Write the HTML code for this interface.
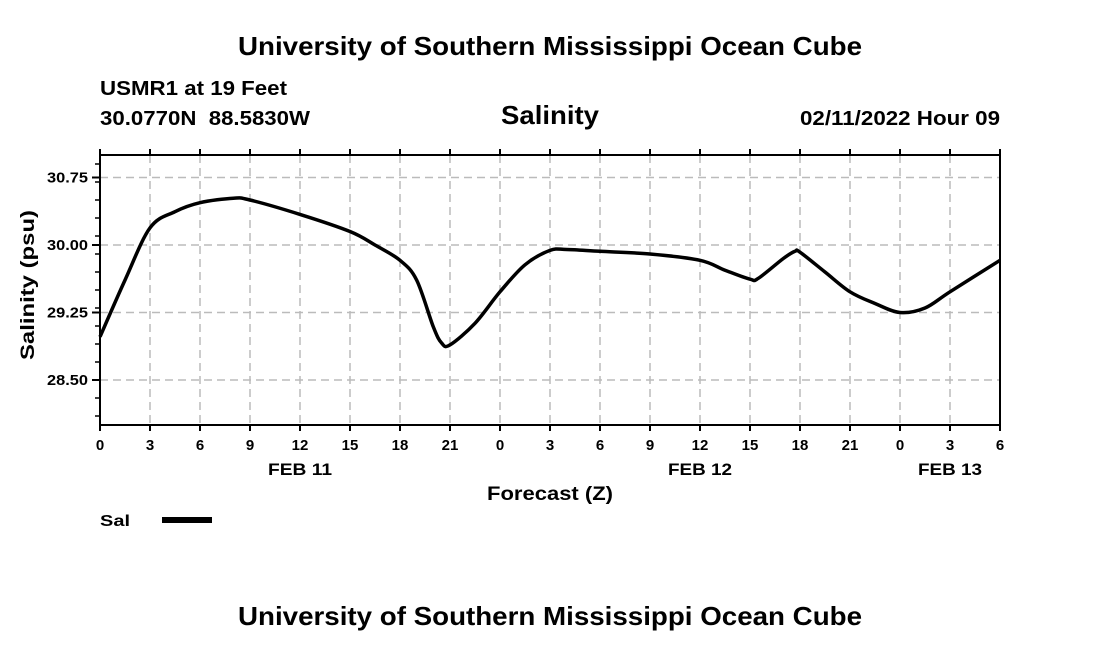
<!DOCTYPE html>
<html><head><meta charset="utf-8"><style>
body{margin:0;background:#fff;}
svg text{font-family:"Liberation Sans",Arial,sans-serif;font-weight:bold;fill:#000;}
</style></head><body>
<svg width="1100" height="650">
<text x="238" y="55" font-size="26" textLength="624" lengthAdjust="spacingAndGlyphs">University of Southern Mississippi Ocean Cube</text>
<text x="100" y="95" font-size="20" textLength="187" lengthAdjust="spacingAndGlyphs">USMR1 at 19 Feet</text>
<text x="100" y="125" font-size="20" textLength="210" lengthAdjust="spacingAndGlyphs" xml:space="preserve">30.0770N  88.5830W</text>
<text x="501" y="124" font-size="26" textLength="98" lengthAdjust="spacingAndGlyphs">Salinity</text>
<text x="800" y="125" font-size="20" textLength="200" lengthAdjust="spacingAndGlyphs">02/11/2022 Hour 09</text>
<g id="grid"></g>
<g id="axes"></g>
<path id="line" fill="none" stroke="#000" stroke-width="3.5" stroke-linejoin="round"></path>
<rect x="100" y="155" width="900" height="270" fill="none" stroke="#000" stroke-width="2"/>
<text transform="translate(34,285) rotate(-90)" x="-75" y="0" font-size="19" textLength="150" lengthAdjust="spacingAndGlyphs">Salinity (psu)</text>
<text x="487" y="500" font-size="19" textLength="126" lengthAdjust="spacingAndGlyphs">Forecast (Z)</text>
<text x="100" y="526" font-size="16" textLength="30" lengthAdjust="spacingAndGlyphs">Sal</text>
<line x1="162" y1="520" x2="212" y2="520" stroke="#000" stroke-width="6"/>
<text x="238" y="625" font-size="26" textLength="624" lengthAdjust="spacingAndGlyphs">University of Southern Mississippi Ocean Cube</text>
</svg>
<script>
const hours=[0,1.5,3,4.5,6,8,9,12,15,16.5,18,19,20,20.5,21,22.5,24,25.5,27,28,30,33,36,37.5,39,39.5,41,41.7,42,43.5,45,46.5,48,49.5,51,54];
const salinity=[28.98,29.61,30.19,30.37,30.47,30.52,30.50,30.34,30.15,30.0,29.83,29.61,29.09,28.91,28.89,29.13,29.48,29.78,29.94,29.95,29.93,29.90,29.83,29.72,29.62,29.63,29.85,29.93,29.92,29.70,29.48,29.35,29.25,29.30,29.48,29.83];
const yTicks=[30.75,30.00,29.25,28.50];
const xTickLabels=["0","3","6","9","12","15","18","21","0","3","6","9","12","15","18","21","0","3","6"];
const dateLabels=["FEB 11","FEB 12","FEB 13"];
const dateHours=[12,36,51];
const X0=100,X1=1000,Y0=425,Y1=155,H=54,VMIN=28,VMAX=31;
const xs=h=>X0+(X1-X0)*h/H;
const ys=v=>Y0-(Y0-Y1)*(v-VMIN)/(VMAX-VMIN);
const NS="http://www.w3.org/2000/svg";
const grid=document.getElementById('grid'),axes=document.getElementById('axes');
function mk(tag,attrs,parent){const e=document.createElementNS(NS,tag);for(const k in attrs)e.setAttribute(k,attrs[k]);parent.appendChild(e);return e;}
yTicks.forEach(v=>{
  const g=mk('line',{x1:X0,x2:X1,y1:ys(v),y2:ys(v),stroke:'#bbb','stroke-width':1.5,'stroke-dasharray':'8,5'},grid);
  
  
  const t=mk('line',{x1:X0-8,x2:X0,y1:ys(v),y2:ys(v),stroke:'#000','stroke-width':2},axes);
  
  
  const l=mk('text',{x:X0-53,y:ys(v)+5,'font-size':15,textLength:41,lengthAdjust:'spacingAndGlyphs'},axes);
  l.textContent=v.toFixed(2);
  
  
});
for(let v=28.1;v<31;v+=0.2){
  const m=mk('line',{x1:X0-5,x2:X0,y1:ys(v),y2:ys(v),stroke:'#000','stroke-width':1.5},axes);
  
  
}
xTickLabels.forEach((s,i)=>{
  const x=xs(i*3);
  if(i>0&&i<xTickLabels.length-1){
    const g=mk('line',{x1:x,x2:x,y1:Y1,y2:Y0,stroke:'#bbb','stroke-width':1.5,'stroke-dasharray':'8,5'},grid);
    
    
  }
  const t=mk('line',{x1:x,x2:x,y1:Y0,y2:Y0+6,stroke:'#000','stroke-width':2},axes);
  
  
  const t2=mk('line',{x1:x,x2:x,y1:Y1-6,y2:Y1,stroke:'#000','stroke-width':2},axes);
  
  
  const l=mk('text',{x:x,y:450,'text-anchor':'middle','font-size':15},axes);
  l.textContent=s;
  
  
});
dateLabels.forEach((s,i)=>{
  const l=mk('text',{x:xs(dateHours[i])-32,y:475,'font-size':17,textLength:64,lengthAdjust:'spacingAndGlyphs'},axes);
  l.textContent=s;
  
  
});
const pts=hours.map((h,i)=>[xs(h),ys(salinity[i])]);
let d='M'+pts[0][0]+','+pts[0][1];
for(let i=0;i<pts.length-1;i++){
  const p0=pts[Math.max(0,i-1)],p1=pts[i],p2=pts[i+1],p3=pts[Math.min(pts.length-1,i+2)];
  const c1=[p1[0]+(p2[0]-p0[0])/6,p1[1]+(p2[1]-p0[1])/6];
  const c2=[p2[0]-(p3[0]-p1[0])/6,p2[1]-(p3[1]-p1[1])/6];
  d+=' C'+c1[0]+','+c1[1]+' '+c2[0]+','+c2[1]+' '+p2[0]+','+p2[1];
}
document.getElementById('line').setAttribute('d',d);
</script>
</body></html>
